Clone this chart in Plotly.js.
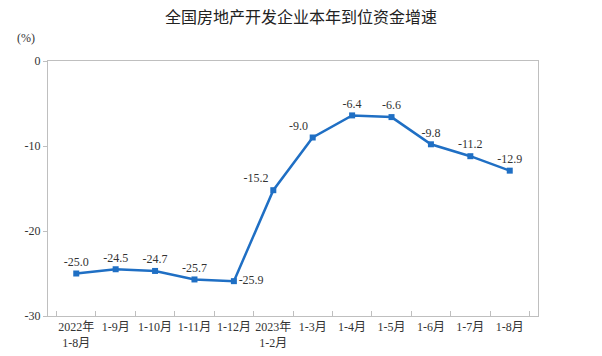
<!DOCTYPE html>
<html>
<head>
<meta charset="utf-8">
<script src="https://cdn.plot.ly/plotly-3.0.1.min.js"></script>
<style>html,body{margin:0;padding:0;background:#fff;}#chart{width:602px;height:356px;}</style>
</head>
<body>
<div id="chart"></div>
<script>
const categories = ["2022年<br>1-8月", "1-9月", "1-10月", "1-11月", "1-12月", "2023年<br>1-2月", "1-3月", "1-4月", "1-5月", "1-6月", "1-7月", "1-8月"];
const values = [-25.0, -24.5, -24.7, -25.7, -25.9, -15.2, -9.0, -6.4, -6.6, -9.8, -11.2, -12.9];
const valueLabels = ["-25.0", "-24.5", "-24.7", "-25.7", "-25.9", "-15.2", "-9.0", "-6.4", "-6.6", "-9.8", "-11.2", "-12.9"];
const yTicks = [0, -10, -20, -30];
const labelPositions = ["top center", "top center", "top center", "top center", "middle right", "top left", "top left", "top center", "top center", "top center", "top center", "top center"];

const serif = '"Liberation Serif", "Times New Roman", "Noto Sans CJK SC", serif';

Plotly.newPlot('chart', [{
  type: 'scatter',
  mode: 'lines+markers+text',
  x: categories,
  y: values,
  text: valueLabels,
  textposition: labelPositions,
  textfont: {family: serif, size: 12, color: '#333'},
  line: {color: '#1f6fc4', width: 2.5},
  marker: {symbol: 'square', size: 6, color: '#1f6fc4'},
  cliponaxis: false,
  hoverinfo: 'skip'
}], {
  width: 602, height: 356,
  margin: {l: 48, r: 64, t: 61, b: 40, autoexpand: false},
  paper_bgcolor: '#fff', plot_bgcolor: '#fff',
  showlegend: false,
  title: {text: '全国房地产开发企业本年到位资金增速', x: 0.5, xref: 'container', y: 0.95, yref: 'container', yanchor: 'middle',
    automargin: false,
    font: {family: '"Noto Sans CJK SC", sans-serif', size: 16, color: '#222'}},
  xaxis: {
    type: 'category', tickson: 'boundaries', automargin: false,
    showline: true, mirror: true, linecolor: '#bfbfbf', linewidth: 1,
    ticks: 'inside', ticklen: 5, tickcolor: '#bfbfbf',
    showgrid: false, zeroline: false,
    tickfont: {family: serif, size: 12, color: '#333'},
    tickangle: 0
  },
  yaxis: {
    range: [-30, 0], tickvals: yTicks, ticktext: yTicks.map(String), automargin: false,
    showline: true, mirror: true, linecolor: '#bfbfbf', linewidth: 1,
    ticks: 'outside', ticklen: 4, tickcolor: '#bfbfbf',
    showgrid: false, zeroline: false,
    tickfont: {family: serif, size: 12, color: '#333'}
  },
  annotations: [{
    text: '(%)', xref: 'paper', yref: 'paper', x: -0.045, y: 1.09, xanchor: 'center', yanchor: 'middle',
    showarrow: false, font: {family: serif, size: 12, color: '#333'}
  }]
}, {displayModeBar: false, staticPlot: true});
</script>
</body>
</html>
